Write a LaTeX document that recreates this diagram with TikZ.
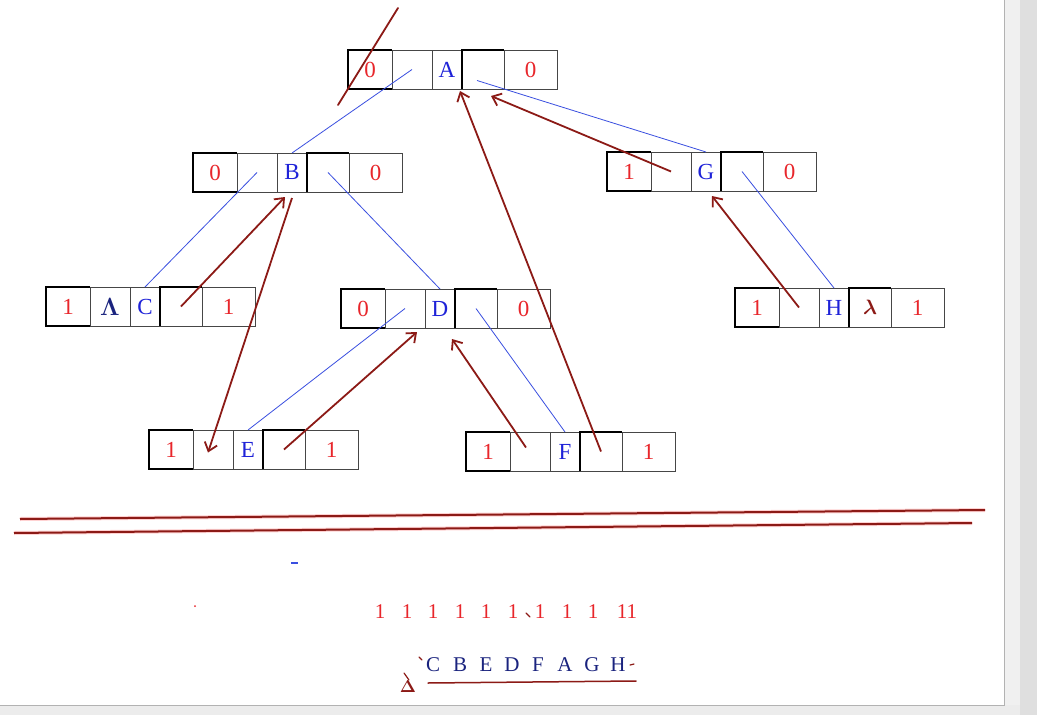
\documentclass[tikz,border=0pt]{standalone}
\usepackage{amsmath}
\usepackage{fontspec}
\setmainfont{Liberation Serif}
\usetikzlibrary{calc,positioning,arrows.meta}
\definecolor{tagred}{HTML}{E8262B}
\definecolor{datablue}{HTML}{1E22D8}
\definecolor{linkblue}{HTML}{3A4FE0}
\definecolor{threadred}{HTML}{8C1A16}
\definecolor{inknavy}{HTML}{1A237E}

\begin{document}
\begin{tikzpicture}[x=1pt, y=-1pt,
    cell/.style={draw=gray!55!black, line width=0.9pt, minimum height=39pt,
        inner sep=0pt, outer sep=0pt, anchor=north west,
        font=\fontsize{23}{26}\selectfont},
    tagcell/.style={text=tagred},
    datacell/.style={text=datablue},
    boxedge/.style={black, line width=1.6pt},
    link/.style={linkblue, line width=0.8pt},
    thread/.style={threadred, line width=1.8pt,
        -{Straight Barb[length=8pt, width=13pt]}},
    ink/.style={threadred, line width=1.8pt, line cap=round}]

    % ---- Page and window frame ----
    \useasboundingbox (0,0) rectangle (1037,715);
    \fill[white] (0,0) rectangle (1037,715);
    \fill[gray!12] (1004,0) rectangle (1020,705);
    \fill[gray!25] (1020,0) rectangle (1037,715);
    \fill[gray!15] (0,705) rectangle (1020,715);
    \draw[gray!60] (1004,0) -- (1004,705) -- (0,705);

    % ---- Threaded tree nodes: ltag | lchild | data | rchild | rtag ----
    \foreach \n/\x/\y/\lt/\rt in {A/348/50/0/0, B/193/153/0/0, G/607/152/1/0,
        C/46/287/1/1, D/341/289/0/0, H/735/288/1/1, E/149/430/1/1, F/466/432/1/1} {
        \node[cell, tagcell, minimum width=44pt] (\n-l) at (\x,\y) {\lt};
        \node[cell, minimum width=40pt, right=0pt of \n-l] (\n-lc) {};
        \node[cell, datacell, minimum width=30pt, right=0pt of \n-lc] (\n-d) {\n};
        \node[cell, minimum width=42pt, right=0pt of \n-d] (\n-rc) {};
        \node[cell, tagcell, minimum width=53pt, right=0pt of \n-rc] (\n-r) {\rt};
        \draw[boxedge] (\n-l.south east) -- (\n-l.south west)
            -- (\n-l.north west) -- (\n-l.north east);
        \draw[boxedge] (\n-rc.south west) -- (\n-rc.north west) -- (\n-rc.north east);
    }

    % null marks written by hand
    \node[inknavy, font=\fontsize{23}{26}\selectfont] (C-nil) at (C-lc.center) {$\boldsymbol{\Lambda}$};
    \node[threadred, font=\fontsize{21}{24}\selectfont] (H-nil) at (H-rc.center) {$\boldsymbol{\lambda}$};

    % ---- Child links ----
    \draw[link] (A-lc.center) -- (B-d.north);
    \draw[link] ($(A-rc.center)+(-6,11)$) -- (G-d.north);
    \draw[link] (B-lc.center) -- (C-d.north);
    \draw[link] (B-rc.center) -- (D-d.north);
    \draw[link] (G-rc.center) -- (H-d.north);
    \draw[link] (D-lc.center) -- (E-d.north);
    \draw[link] (D-rc.center) -- (F-d.north);

    % ---- Threads (hand drawn) ----
    \coordinate (B-in1) at ($(B-d.south)+(-7,5)$);
    \coordinate (B-in2) at ($(B-d.south)+(0,6)$);
    \coordinate (D-in1) at ($(D-d.south west)+(-8,4)$);
    \coordinate (D-in2) at ($(D-d.south)+(12,11)$);
    \coordinate (A-in1) at ($(A-d.south east)+(-2,2)$);
    \coordinate (A-in2) at ($(A-rc.south)+(8,7)$);
    \coordinate (G-in1) at ($(G-d.south)+(6,5)$);
    \coordinate (E-out) at ($(E-lc.center)+(-5,3)$);

    \draw[thread] (C-rc.center) -- (B-in1);
    \draw[thread, {Straight Barb[length=8pt, width=13pt]}-] (E-out) -- (B-in2);
    \draw[thread] (E-rc.center) -- (D-in1);
    \draw[thread] ($(F-lc.center)+(-4,-4)$) -- (D-in2);
    \draw[thread] (F-rc.center) -- (A-in1);
    \draw[thread] (G-lc.center) -- (A-in2);
    \draw[thread] (H-lc.center) -- (G-in1);

    % stroke across the root
    \draw[ink] (398,8) -- (338,105);

    % ---- Separator ----
    \draw[pink!70, line width=4pt] (20,519) -- (985,510);
    \draw[pink!70, line width=4pt] (14,533) -- (972,523);
    \draw[threadred, line width=2pt] (20,519) -- (985,510);
    \draw[threadred, line width=2pt] (14,533) -- (972,523);
    \draw[linkblue, line width=1.5pt] (291,563) -- (298,563);
    \fill[tagred] (195,606) circle (1pt);

    % ---- In-order sequence ----
    \foreach \i/\x/\t in {1/380/1, 2/407/1, 3/433/1, 4/460/1, 5/486/1,
        6/513/1, 7/540/1, 8/567/1, 9/593/1, 10/627/11} {
        \node[tagred, font=\fontsize{21}{24}\selectfont] (tag\i) at (\x,612) {\t};
    }
    \draw[ink, line width=1.2pt] (526,613) -- (530,617);

    \foreach \i/\x/\t in {1/433/C, 2/460/B, 3/486/E, 4/512/D, 5/538/F,
        6/565/A, 7/592/G, 8/618/H} {
        \node[inknavy, font=\fontsize{21}{24}\selectfont] (seq\i) at (\x,665) {\t};
    }
    \coordinate (ul-a) at (428,683);
    \coordinate (ul-b) at (636,681);
    \draw[ink, line width=1.5pt] (ul-a) -- (ul-b);
    \draw[ink, line width=1.2pt] (419,657) -- (422,660);
    \draw[ink, line width=1.2pt] (630,665) -- (634,664);
    \node[threadred, font=\fontsize{19}{22}\selectfont] (delta) at (408,687) {$\boldsymbol{\Delta}$};
    \draw[ink, line width=1.2pt] (404,673) -- (409,680);
\end{tikzpicture}
\end{document}
